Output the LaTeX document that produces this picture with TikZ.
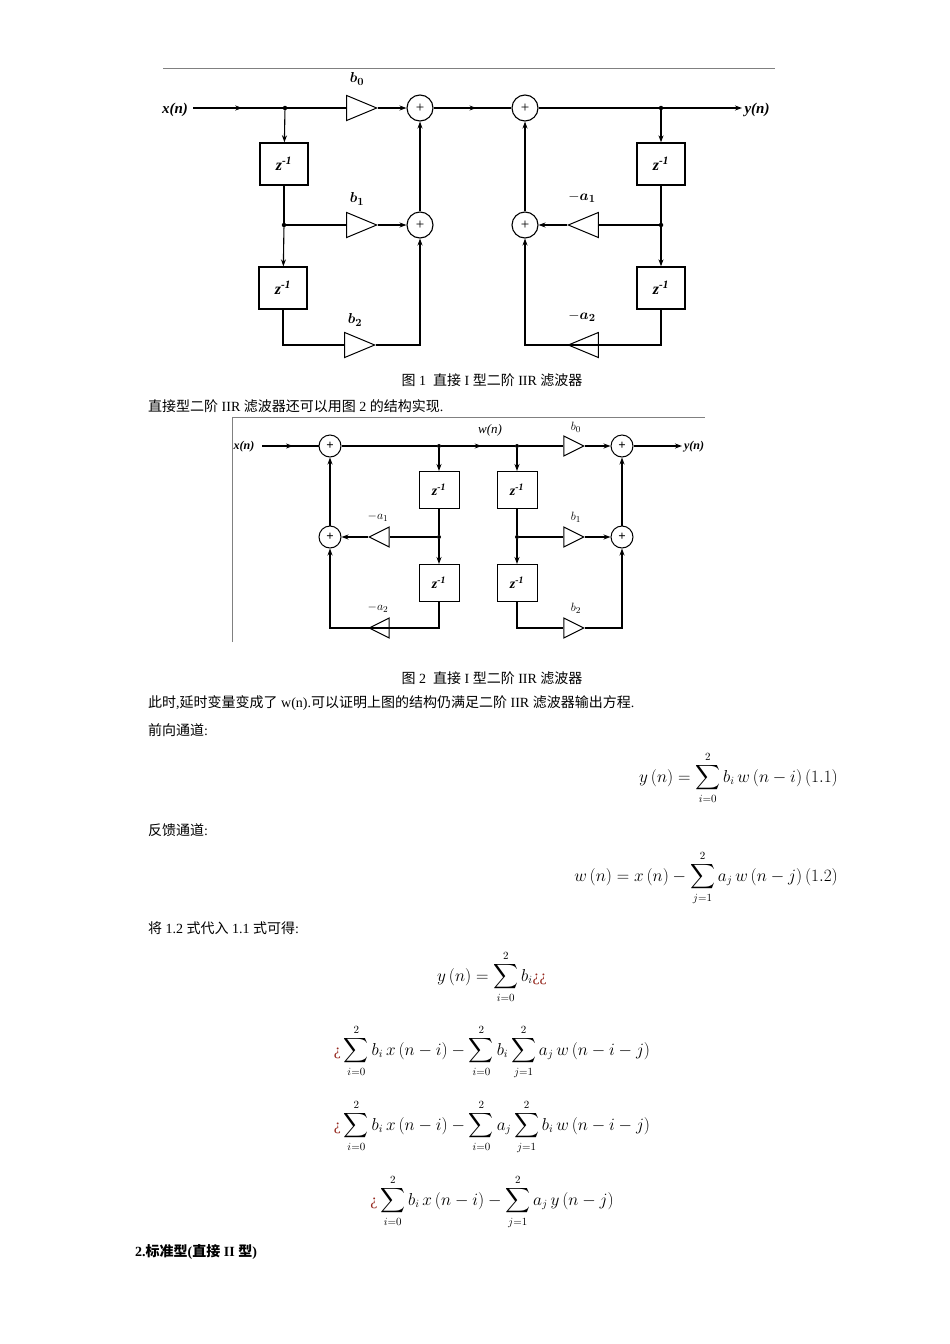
\documentclass[tikz,border=0pt]{standalone}
\usepackage{amsmath,bm}
\usepackage{fontspec}
\setmainfont{Liberation Serif}
\newfontfamily\cjk{Noto Sans CJK SC}
\usetikzlibrary{shapes.geometric,decorations.markings,arrows.meta}
\definecolor{qmark}{RGB}{150,40,30}
\begin{document}
\begin{tikzpicture}[x=1pt,y=-1pt,
  every node/.style={inner sep=0pt},
  wire/.style={line width=1.1pt},
  arr/.style={wire,-{Stealth[length=7pt,width=5pt]}},
  mid/.style={wire,postaction={decorate},decoration={markings,mark=at position 0.55 with {\arrow{Stealth[length=7pt,width=5pt]}}}},
  sumA/.style={circle,draw,line width=1.1pt,minimum size=26pt,font=\fontsize{15}{15}\selectfont},
  sumB/.style={circle,draw,line width=1pt,minimum size=22pt,font=\fontsize{13}{13}\selectfont\bfseries},
  dlyA/.style={draw,line width=1.3pt,minimum width=48pt,minimum height=42pt,font=\fontsize{16}{16}\selectfont\bfseries\itshape},
  dlyB/.style={draw,line width=1pt,minimum width=40pt,minimum height=37pt,font=\fontsize{14}{14}\selectfont\bfseries\itshape},
  triR/.style={isosceles triangle,isosceles triangle stretches,draw,line width=1pt,minimum width=25pt,minimum height=30pt},
  triL/.style={triR,shape border rotate=180},
  triRB/.style={isosceles triangle,isosceles triangle stretches,draw,line width=1pt,minimum width=20pt,minimum height=20pt},
  triLB/.style={triRB,shape border rotate=180},
  dot/.style={circle,fill,minimum size=4.5pt},
  lblA/.style={font=\fontsize{15}{15}\selectfont\bfseries\itshape},
  lblB/.style={font=\fontsize{13}{13}\selectfont\itshape},
  txt/.style={anchor=west,font=\fontsize{14}{16}\selectfont},
  eq/.style={font=\fontsize{16}{18}\selectfont}]
\useasboundingbox (0,0) rectangle (950,1344);
\fill[white] (0,0) rectangle (950,1344);
% ---------- Figure 1 ----------
\coordinate (r1a) at (163,68); \coordinate (r1b) at (775,68);
\draw[gray,line width=0.8pt] (r1a) -- (r1b);
\node[lblA] (xl) at (175,110) {x(n)};
\coordinate (xs) at (193,108);
\node[dot] (j1) at (285,108) {};
\node[triR] (tb0) at (355,108) {};
\node[lblA] (lb0) at (357,79) {$\bm{b_0}$};
\node[sumA] (s1) at (420,108) {+};
\node[sumA] (s2) at (525,108) {+};
\node[dot] (j2) at (661,108) {};
\coordinate (ye) at (742,108);
\node[lblA] (yl) at (757,110) {y(n)};
\draw[mid] (xs) -- (j1);
\draw[wire] (j1) -- (tb0);
\draw[arr] (tb0) -- (s1);
\draw[mid] (s1) -- (s2);
\draw[arr] (s2) -- (ye);
\node[dlyA] (d1) at (284,164) {z$^{\text{-1}}$};
\node[dot] (j3) at (284,225) {};
\node[dlyA] (d2) at (283,288) {z$^{\text{-1}}$};
\node[triR] (tb1) at (355,225) {};
\node[lblA] (lb1) at (357,199) {$\bm{b_1}$};
\node[sumA] (s3) at (420,225) {+};
\node[triR] (tb2) at (353,345) {};
\node[lblA] (lb2) at (355,320) {$\bm{b_2}$};
\draw[arr] (j1) -- (d1);
\draw[wire] (d1) -- (j3);
\draw[arr] (j3) -- (d2);
\draw[wire] (j3) -- (tb1);
\draw[arr] (tb1) -- (s3);
\draw[arr] (s3) -- (s1);
\draw[wire] (d2.south) |- (tb2.west);
\draw[arr] (tb2.east) -| (s3.south);
\node[dlyA] (d3) at (661,164) {z$^{\text{-1}}$};
\node[dot] (j4) at (661,225) {};
\node[dlyA] (d4) at (661,288) {z$^{\text{-1}}$};
\node[triL] (ta1) at (590,225) {};
\node[lblA] (la1) at (582,197) {$-\bm{a_1}$};
\node[sumA] (s4) at (525,225) {+};
\node[triL] (ta2) at (590,345) {};
\node[lblA] (la2) at (582,316) {$-\bm{a_2}$};
\draw[arr] (j2) -- (d3);
\draw[wire] (d3) -- (j4);
\draw[arr] (j4) -- (d4);
\draw[wire] (j4) -- (ta1);
\draw[arr] (ta1) -- (s4);
\draw[arr] (s4) -- (s2);
\draw[wire] (d4.south) |- (ta2.west);
\draw[arr] (ta2.east) -| (s4.south);
\node[font=\fontsize{14}{16}\selectfont] (cap1) at (492,380) {{\cjk 图} 1\enspace{\cjk 直接} I {\cjk 型二阶} IIR {\cjk 滤波器}};
\node[txt] (t1) at (148,406) {{\cjk 直接型二阶} IIR {\cjk 滤波器还可以用图} 2 {\cjk 的结构实现}.};
% ---------- Figure 2 ----------
\coordinate (f2a) at (232,642); \coordinate (f2b) at (232,417); \coordinate (f2c) at (705,417);
\draw[gray,line width=0.8pt] (f2a) -- (f2b) -- (f2c);
\node[font=\fontsize{12}{12}\selectfont\bfseries\itshape] (x2) at (244,447) {x(n)};
\coordinate (x2s) at (262,446);
\node[sumB] (u1) at (330,446) {+};
\node[dot,minimum size=4pt] (k1) at (439,446) {};
\node[dot,minimum size=4pt] (k2) at (517,446) {};
\node[lblB] (wl) at (490,430) {w(n)};
\node[triRB] (c0) at (570,446) {};
\node[lblB] (lc0) at (576,427) {$b_0$};
\node[sumB] (u2) at (622,446) {+};
\coordinate (y2e) at (682,446);
\node[font=\fontsize{12}{12}\selectfont\bfseries\itshape] (y2) at (694,447) {y(n)};
\draw[mid] (x2s) -- (u1);
\draw[wire] (u1) -- (k1);
\draw[mid] (k1) -- (k2);
\draw[wire] (k2) -- (c0);
\draw[arr] (c0) -- (u2);
\draw[arr] (u2) -- (y2e);
\node[dlyB] (e1) at (439,490) {z$^{\text{-1}}$};
\node[dlyB] (e2) at (517,490) {z$^{\text{-1}}$};
\node[dot,minimum size=4pt] (k3) at (439,537) {};
\node[dot,minimum size=4pt] (k4) at (517,537) {};
\node[dlyB] (e3) at (439,583) {z$^{\text{-1}}$};
\node[dlyB] (e4) at (517,583) {z$^{\text{-1}}$};
\node[sumB] (u3) at (330,537) {+};
\node[triLB] (c1) at (383,537) {};
\node[lblB] (lc1) at (378,517) {$-a_1$};
\node[triLB] (c2) at (383,628) {};
\node[lblB] (lc2) at (378,608) {$-a_2$};
\node[triRB] (c3) at (570,537) {};
\node[lblB] (lc3) at (576,517) {$b_1$};
\node[sumB] (u4) at (622,537) {+};
\node[triRB] (c4) at (570,628) {};
\node[lblB] (lc4) at (576,608) {$b_2$};
\draw[arr] (k1) -- (e1);
\draw[arr] (k2) -- (e2);
\draw[wire] (e1) -- (k3);
\draw[wire] (e2) -- (k4);
\draw[arr] (k3) -- (e3);
\draw[arr] (k4) -- (e4);
\draw[wire] (k3) -- (c1);
\draw[arr] (c1) -- (u3);
\draw[arr] (u3) -- (u1);
\draw[wire] (e3.south) |- (c2.west);
\draw[arr] (c2.east) -| (u3.south);
\draw[wire] (k4) -- (c3);
\draw[arr] (c3) -- (u4);
\draw[arr] (u4) -- (u2);
\draw[wire] (e4.south) |- (c4.west);
\draw[arr] (c4.east) -| (u4.south);
\node[font=\fontsize{14}{16}\selectfont] (cap2) at (492,678) {{\cjk 图} 2\enspace{\cjk 直接} I {\cjk 型二阶} IIR {\cjk 滤波器}};
% ---------- Text ----------
\node[txt] (t2) at (148,703) {{\cjk 此时},{\cjk 延时变量变成了} w(n).{\cjk 可以证明上图的结构仍满足二阶} IIR {\cjk 滤波器输出方程}.};
\node[txt] (t3) at (148,730) {{\cjk 前向通道}:};
\node[eq,anchor=east] (q11) at (838,778) {$y\left(n\right)=\displaystyle\sum_{i=0}^{2} b_i\, w\left(n-i\right)\left(1.1\right)$};
\node[txt] (t4) at (148,830) {{\cjk 反馈通道}:};
\node[eq,anchor=east] (q12) at (838,878) {$w\left(n\right)=x\left(n\right)-\displaystyle\sum_{j=1}^{2} a_j\, w\left(n-j\right)\left(1.2\right)$};
\node[txt] (t5) at (148,928) {{\cjk 将} 1.2 {\cjk 式代入} 1.1 {\cjk 式可得}:};
\node[eq] (q3) at (492,977) {$y\left(n\right)=\displaystyle\sum_{i=0}^{2} b_i\text{\color{qmark}¿¿}$};
\node[eq] (q4) at (492,1052) {$\text{\color{qmark}¿}\displaystyle\sum_{i=0}^{2} b_i\, x\left(n-i\right)-\sum_{i=0}^{2} b_i\sum_{j=1}^{2} a_j\, w\left(n-i-j\right)$};
\node[eq] (q5) at (492,1127) {$\text{\color{qmark}¿}\displaystyle\sum_{i=0}^{2} b_i\, x\left(n-i\right)-\sum_{i=0}^{2} a_j\sum_{j=1}^{2} b_i\, w\left(n-i-j\right)$};
\node[eq] (q6) at (492,1202) {$\text{\color{qmark}¿}\displaystyle\sum_{i=0}^{2} b_i\, x\left(n-i\right)-\sum_{j=1}^{2} a_j\, y\left(n-j\right)$};
\node[txt,font=\fontsize{14}{16}\selectfont\bfseries] (t6) at (135,1252) {2.{\cjk\bfseries 标准型}({\cjk\bfseries 直接} II {\cjk\bfseries 型})};
\end{tikzpicture}
\end{document}
